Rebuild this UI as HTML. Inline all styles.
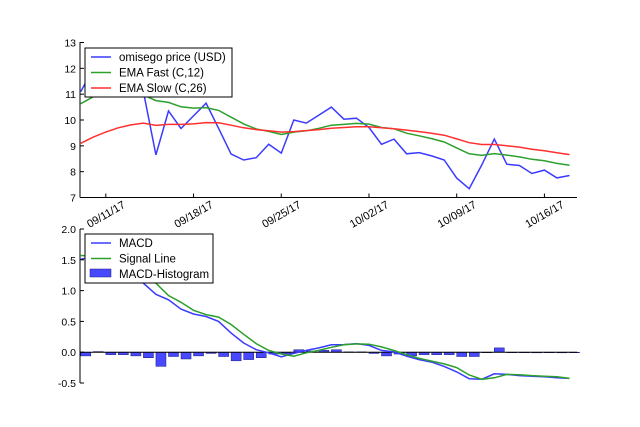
<!DOCTYPE html>
<html><head><meta charset="utf-8"><style>
body{margin:0;background:#fff;}
svg{display:block;font-family:"Liberation Sans","DejaVu Sans",sans-serif;}
</style></head><body>
<svg id="c" width="640" height="427"></svg>
<script>
const dayLabels=["09/11/17","09/18/17","09/25/17","10/02/17","10/09/17","10/16/17"];
const dayTicks=[2,9,16,23,30,37];
const price=[11.10,12.0,12.3,12.0,11.8,11.1,8.65,10.35,9.67,10.16,10.65,9.68,8.68,8.45,8.54,9.06,8.72,10.0,9.88,10.19,10.5,10.03,10.07,9.71,9.06,9.26,8.69,8.74,8.61,8.45,7.75,7.34,8.26,9.26,8.29,8.24,7.93,8.06,7.76,7.85];
const emaFast=[10.63,10.9,11.1,11.2,11.25,10.97,10.75,10.68,10.51,10.46,10.48,10.37,10.11,9.85,9.65,9.56,9.44,9.53,9.58,9.68,9.8,9.83,9.87,9.84,9.71,9.66,9.49,9.39,9.28,9.15,8.92,8.69,8.63,8.70,8.64,8.57,8.48,8.42,8.32,8.25];
const emaSlow=[9.10,9.34,9.53,9.70,9.81,9.88,9.79,9.83,9.83,9.85,9.90,9.89,9.8,9.70,9.63,9.58,9.53,9.55,9.59,9.63,9.68,9.71,9.74,9.74,9.70,9.66,9.61,9.55,9.49,9.41,9.27,9.12,9.05,9.05,9.0,8.95,8.87,8.81,8.73,8.66];
const macd=[1.51,1.55,1.6,1.5,1.35,1.12,0.94,0.85,0.70,0.62,0.58,0.50,0.31,0.15,0.04,-0.01,-0.075,-0.02,0.03,0.07,0.12,0.124,0.14,0.11,0.03,0.005,-0.065,-0.12,-0.16,-0.23,-0.32,-0.43,-0.44,-0.35,-0.36,-0.38,-0.39,-0.40,-0.415,-0.425];
const signal=[1.57,1.56,1.55,1.5,1.42,1.3,1.12,0.92,0.81,0.68,0.61,0.57,0.45,0.29,0.14,0.03,-0.03,-0.065,-0.01,0.03,0.08,0.12,0.135,0.13,0.086,0.027,-0.04,-0.1,-0.145,-0.19,-0.25,-0.37,-0.44,-0.415,-0.36,-0.365,-0.38,-0.39,-0.40,-0.425];
const hist=[-0.06,0.01,-0.04,-0.04,-0.06,-0.09,-0.23,-0.07,-0.11,-0.06,-0.02,-0.07,-0.14,-0.12,-0.09,-0.03,-0.03,0.04,0.02,0.03,0.04,0.005,0.005,-0.02,-0.06,-0.03,-0.06,-0.04,-0.04,-0.04,-0.07,-0.07,0,0.07,-0.005,0,-0.01,0,-0.01,0];
const topTicks=[7,8,9,10,11,12,13];
const botTicks=[-0.5,0.0,0.5,1.0,1.5,2.0];

const svg=document.getElementById('c');const NS='http://www.w3.org/2000/svg';
function mk(t,a,p){const e=document.createElementNS(NS,t);for(const k in a)e.setAttribute(k,a[k]);(p||svg).appendChild(e);return e;}
const X0=80,X1=577,DMIN=-0.06,DMAX=39.6;
const xs=d=>X0+(d-DMIN)/(DMAX-DMIN)*(X1-X0);
const yT=v=>42.5+(13-v)/6*155;
const yB=v=>229+(2-v)/2.5*154;

const gT=mk('g',{});


function line(arr,fy,col,name,p){const d=arr.map((v,i)=>(i?'L':'M')+xs(i).toFixed(1)+','+fy(v).toFixed(1)).join('');const e=mk('path',{d:d,fill:'none',stroke:col,'stroke-width':1.5},p);}
line(price,yT,'#3b3bff','price-line',gT);
line(emaFast,yT,'#2ca02c','ema-fast-line',gT);
line(emaSlow,yT,'#ff3030','ema-slow-line',gT);
mk('line',{x1:X0,y1:42,x2:X0,y2:197.5,stroke:'#000','stroke-width':1},gT);
mk('line',{x1:X0,y1:197.5,x2:X1,y2:197.5,stroke:'#000','stroke-width':1},gT);
topTicks.forEach(v=>{const y=yT(v);mk('line',{x1:X0,y1:y,x2:X0+4,y2:y,stroke:'#000'},gT);const t=mk('text',{x:X0-4,y:y+4,'text-anchor':'end','font-size':10.5},gT);t.textContent=v;});
dayTicks.forEach((d,i)=>{const x=xs(d);mk('line',{x1:x,y1:197.5,x2:x,y2:193.5,stroke:'#000'},gT);const cy=214;const t=mk('text',{x:x,y:cy+4,'text-anchor':'middle','font-size':11,transform:`rotate(-30 ${x} ${cy})`},gT);t.textContent=dayLabels[i];});
const lT=mk('g',{});


mk('rect',{x:85,y:48,width:147,height:49,fill:'#fff',stroke:'#000','stroke-width':1},lT);
[['omisego price (USD)','#3b3bff'],['EMA Fast (C,12)','#2ca02c'],['EMA Slow (C,26)','#ff3030']].forEach((e,i)=>{const y=57+i*15.5;mk('line',{x1:91,y1:y,x2:111,y2:y,stroke:e[1],'stroke-width':1.5},lT);const t=mk('text',{x:119,y:y+4,'font-size':11.5},lT);t.textContent=e[0];});

const gB=mk('g',{});


hist.forEach((v,i)=>{const x=xs(i),w=xs(i+0.8)-xs(i);const y0=yB(0),y1=yB(v);const r=mk('rect',{x:x,y:Math.min(y0,y1),width:w,height:Math.max(Math.abs(y1-y0),0.5),fill:'#4848ff',stroke:'#1a1a80','stroke-width':0.5},gB);});
mk('line',{x1:X0,y1:yB(0),x2:X1,y2:yB(0),stroke:'#000','stroke-width':1},gB);
line(macd,yB,'#3b3bff','macd-line',gB);
line(signal,yB,'#2ca02c','signal-line',gB);
mk('line',{x1:X0,y1:229,x2:X0,y2:383,stroke:'#000'},gB);
botTicks.forEach(v=>{const y=yB(v);mk('line',{x1:X0,y1:y,x2:X0+4,y2:y,stroke:'#000'},gB);const t=mk('text',{x:X0-4,y:y+4,'text-anchor':'end','font-size':10.5},gB);t.textContent=v.toFixed(1);});
const lB=mk('g',{});


mk('rect',{x:85,y:234,width:128,height:49,fill:'#fff',stroke:'#000','stroke-width':1},lB);
[['MACD','#3b3bff'],['Signal Line','#2ca02c']].forEach((e,i)=>{const y=243+i*15.5;mk('line',{x1:91,y1:y,x2:111,y2:y,stroke:e[1],'stroke-width':1.5},lB);const t=mk('text',{x:119,y:y+4,'font-size':11.5},lB);t.textContent=e[0];});
mk('rect',{x:90,y:269,width:21,height:8,fill:'#4848ff',stroke:'#1a1a80','stroke-width':0.5},lB);
const th=mk('text',{x:119,y:278,'font-size':11.5},lB);th.textContent='MACD-Histogram';


</script>
</body></html>
